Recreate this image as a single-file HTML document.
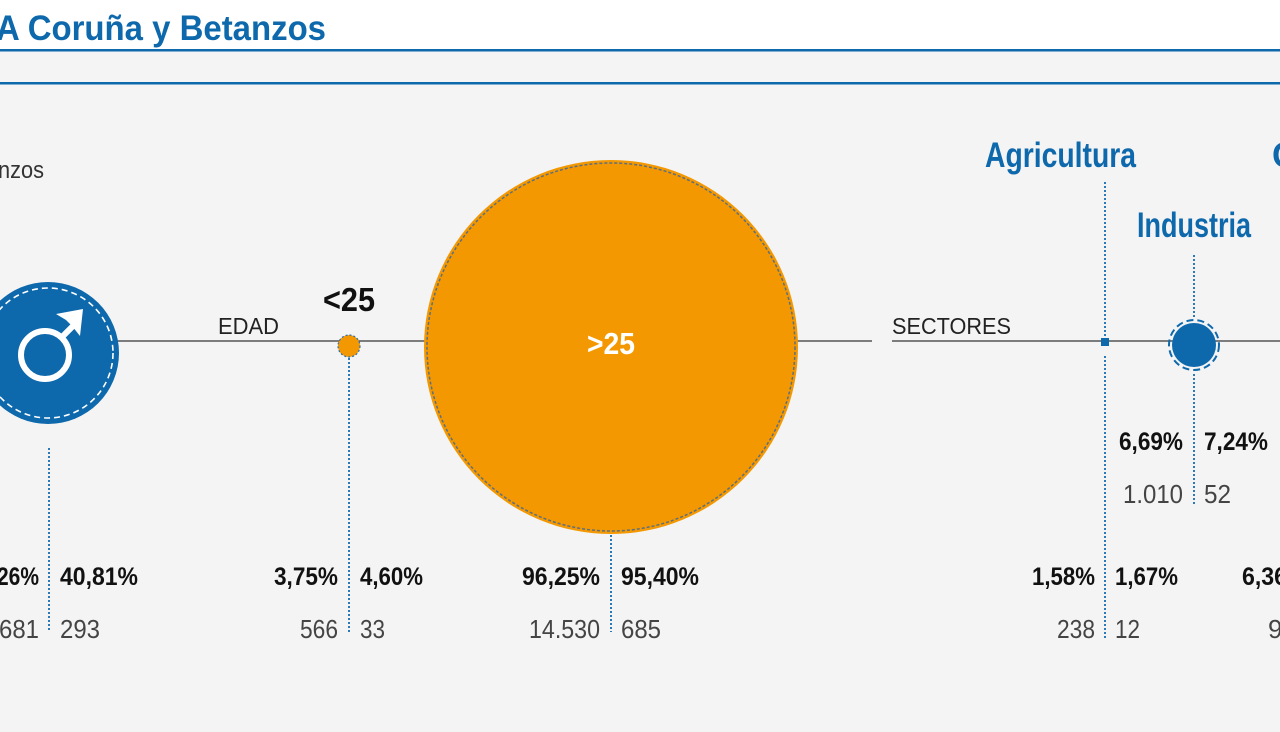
<!DOCTYPE html>
<html><head><meta charset="utf-8"><style>
html,body{margin:0;padding:0;background:#f4f4f4;}
svg{display:block;font-family:"Liberation Sans",sans-serif;}
</style></head><body>
<svg width="1280" height="732" viewBox="0 0 1280 732" xmlns="http://www.w3.org/2000/svg">
<rect width="1280" height="732" fill="#f4f4f4"/>
<rect width="1280" height="49" fill="#ffffff"/>
<text x="-4" y="40" font-size="35" font-weight="bold" fill="#0d68ac" textLength="330" lengthAdjust="spacingAndGlyphs">A Coruña y Betanzos</text>
<rect y="49" width="1280" height="2.5" fill="#0d68ac"/>
<rect y="82" width="1280" height="2.5" fill="#0d68ac"/>
<text x="-2" y="178" font-size="24" fill="#333" textLength="46" lengthAdjust="spacingAndGlyphs">nzos</text>

<g stroke="#555" stroke-width="1.5">
<line x1="110" y1="341" x2="430" y2="341"/>
<line x1="795" y1="341" x2="872" y2="341"/>
<line x1="892" y1="341" x2="1280" y2="341"/>
</g>
<g stroke="#2a7ab8" stroke-width="2" stroke-dasharray="2,2">
<line x1="49" y1="448" x2="49" y2="632"/>
<line x1="349" y1="358" x2="349" y2="632"/>
<line x1="611" y1="535" x2="611" y2="632"/>
<line x1="1105" y1="182" x2="1105" y2="336"/>
<line x1="1105" y1="356" x2="1105" y2="640"/>
<line x1="1194" y1="255" x2="1194" y2="318"/>
<line x1="1194" y1="374" x2="1194" y2="505"/>
</g>

<circle cx="48" cy="353" r="71" fill="#0d68ac"/>
<circle cx="48" cy="353" r="65" fill="none" stroke="#fff" stroke-width="1.6" stroke-dasharray="6,4"/>
<circle cx="45" cy="355" r="24" fill="none" stroke="#fff" stroke-width="6"/>
<line x1="62" y1="337" x2="76" y2="323" stroke="#fff" stroke-width="6"/>
<polygon points="56,314 83,309 80,336 72,326 66,320" fill="#fff"/>

<text x="218" y="334" font-size="23" fill="#222" textLength="61" lengthAdjust="spacingAndGlyphs">EDAD</text>
<text x="323" y="311" font-size="33" font-weight="bold" fill="#111" textLength="52" lengthAdjust="spacingAndGlyphs">&lt;25</text>
<circle cx="349" cy="346" r="11" fill="#f39800"/>
<circle cx="349" cy="346" r="11" fill="none" stroke="#2a6fb0" stroke-width="1.2" stroke-dasharray="2,2"/>

<circle cx="611" cy="347" r="187" fill="#f39800"/>
<circle cx="611" cy="347" r="184" fill="none" stroke="#5d6f7f" stroke-width="1.5" stroke-dasharray="3,2"/>
<text x="611" y="354" font-size="31" font-weight="bold" fill="#fff" text-anchor="middle" textLength="48" lengthAdjust="spacingAndGlyphs">&gt;25</text>

<text x="892" y="334" font-size="23" fill="#222" textLength="119" lengthAdjust="spacingAndGlyphs">SECTORES</text>
<text x="985" y="167" font-size="35" font-weight="bold" fill="#0d68ac" textLength="151" lengthAdjust="spacingAndGlyphs">Agricultura</text>
<text x="1272" y="167" font-size="35" font-weight="bold" fill="#0d68ac">C</text>
<text x="1137" y="237" font-size="35" font-weight="bold" fill="#0d68ac" textLength="114" lengthAdjust="spacingAndGlyphs">Industria</text>
<rect x="1101" y="338" width="8" height="8" fill="#0d68ac"/>
<circle cx="1194" cy="345" r="22" fill="#0d68ac"/>
<circle cx="1194" cy="345" r="25" fill="none" stroke="#0d68ac" stroke-width="2" stroke-dasharray="7,4"/>

<g font-size="25" font-weight="bold" fill="#111">
<text x="39" y="585" text-anchor="end" textLength="42" lengthAdjust="spacingAndGlyphs">26%</text>
<text x="60" y="585" textLength="78" lengthAdjust="spacingAndGlyphs">40,81%</text>
<text x="338" y="585" text-anchor="end" textLength="64" lengthAdjust="spacingAndGlyphs">3,75%</text>
<text x="360" y="585" textLength="63" lengthAdjust="spacingAndGlyphs">4,60%</text>
<text x="600" y="585" text-anchor="end" textLength="78" lengthAdjust="spacingAndGlyphs">96,25%</text>
<text x="621" y="585" textLength="78" lengthAdjust="spacingAndGlyphs">95,40%</text>
<text x="1095" y="585" text-anchor="end" textLength="63" lengthAdjust="spacingAndGlyphs">1,58%</text>
<text x="1115" y="585" textLength="63" lengthAdjust="spacingAndGlyphs">1,67%</text>
<text x="1242" y="585" textLength="45" lengthAdjust="spacingAndGlyphs">6,36</text>
<text x="1183" y="450" text-anchor="end" textLength="64" lengthAdjust="spacingAndGlyphs">6,69%</text>
<text x="1204" y="450" textLength="64" lengthAdjust="spacingAndGlyphs">7,24%</text>
</g>
<g font-size="26" fill="#444">
<text x="39" y="638" text-anchor="end" textLength="40" lengthAdjust="spacingAndGlyphs">681</text>
<text x="60" y="638" textLength="40" lengthAdjust="spacingAndGlyphs">293</text>
<text x="338" y="638" text-anchor="end" textLength="38" lengthAdjust="spacingAndGlyphs">566</text>
<text x="360" y="638" textLength="25" lengthAdjust="spacingAndGlyphs">33</text>
<text x="600" y="638" text-anchor="end" textLength="71" lengthAdjust="spacingAndGlyphs">14.530</text>
<text x="621" y="638" textLength="40" lengthAdjust="spacingAndGlyphs">685</text>
<text x="1095" y="638" text-anchor="end" textLength="38" lengthAdjust="spacingAndGlyphs">238</text>
<text x="1115" y="638" textLength="25" lengthAdjust="spacingAndGlyphs">12</text>
<text x="1268" y="638">9</text>
<text x="1183" y="503" text-anchor="end" textLength="60" lengthAdjust="spacingAndGlyphs">1.010</text>
<text x="1204" y="503" textLength="27" lengthAdjust="spacingAndGlyphs">52</text>
</g>
</svg>
</body></html>
